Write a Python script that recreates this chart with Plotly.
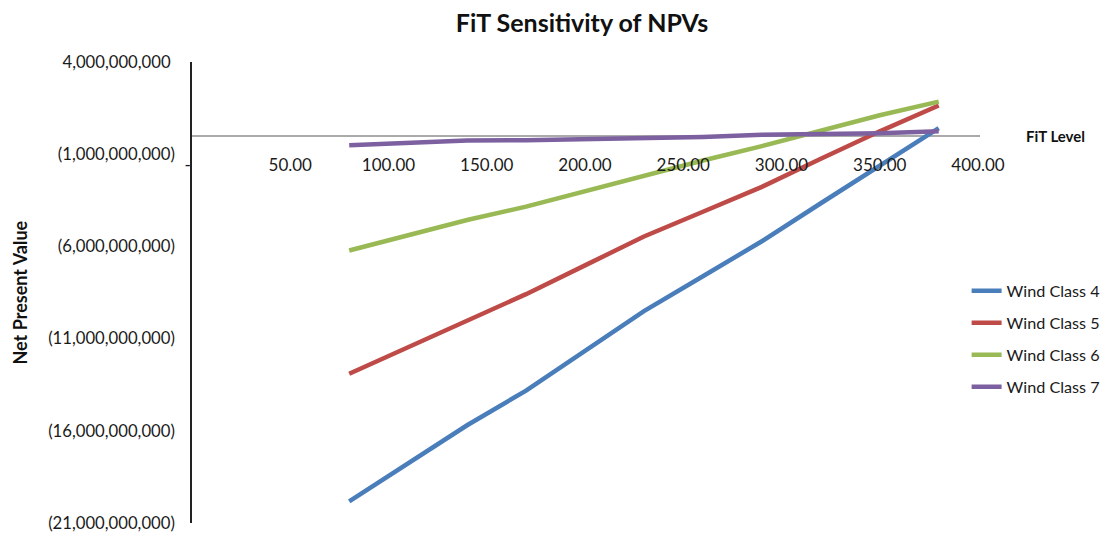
import plotly.graph_objects as go

fit_level = [80, 110, 140, 170, 200, 230, 260, 290, 320, 350, 380]

wind_class_4 = [-19.83e9, -17.77e9, -15.70e9, -13.82e9, -11.68e9, -9.51e9, -7.62e9, -5.72e9, -3.66e9, -1.60e9, 0.41e9]
wind_class_5 = [-12.91e9, -11.47e9, -9.97e9, -8.59e9, -7.03e9, -5.46e9, -4.12e9, -2.77e9, -1.25e9, 0.24e9, 1.64e9]
wind_class_6 = [-6.22e9, -5.40e9, -4.57e9, -3.84e9, -2.99e9, -2.13e9, -1.34e9, -0.56e9, 0.29e9, 1.11e9, 1.85e9]
wind_class_7 = [-0.51e9, -0.38e9, -0.26e9, -0.24e9, -0.20e9, -0.17e9, -0.07e9, 0.05e9, 0.08e9, 0.14e9, 0.24e9]

series_names = ["Wind Class 4", "Wind Class 5", "Wind Class 6", "Wind Class 7"]
series_values = [wind_class_4, wind_class_5, wind_class_6, wind_class_7]
colors = ["#4A7EBB", "#BE4B48", "#98B954", "#7D60A0"]

x_tickvals = [0, 50, 100, 150, 200, 250, 300, 350, 400]
x_ticktext = ["-\u00a0\u00a0", "50.00", "100.00", "150.00", "200.00", "250.00", "300.00", "350.00", "400.00"]
y_tickvals = [4e9, -1e9, -6e9, -11e9, -16e9, -21e9]
y_ticktext = ["4,000,000,000\u00a0", "(1,000,000,000)", "(6,000,000,000)", "(11,000,000,000)",
              "(16,000,000,000)", "(21,000,000,000)"]

FONT = "Lato"

# page body has an 8px margin, so the figure is made 16px smaller
W, H = 1102, 528
L, T = 184, 54
PW, PH = 788, 461

fig = go.Figure()
for name, vals, col in zip(series_names, series_values, colors):
    fig.add_trace(go.Scatter(
        x=fit_level, y=vals, mode="lines", name=name,
        line=dict(color=col, width=4.5), legendgroup=name,
    ))

fig.update_layout(
    width=W, height=H,
    plot_bgcolor="white", paper_bgcolor="white",
    margin=dict(l=L, r=W - L - PW, t=T, b=H - T - PH, autoexpand=False),
    font=dict(family=FONT, size=16, color="#1a1a1a"),
    title=dict(text="<b>FiT Sensitivity of NPVs</b>", x=574 / W, xref="container", xanchor="center",
               y=1 - 15 / H, yref="container", yanchor="middle",
               font=dict(family=FONT, size=25, color="#111111")),
    showlegend=True,
    legend=dict(x=0.983, xanchor="left", y=0.541, yanchor="top", traceorder="grouped",
                tracegroupgap=8, itemwidth=30, font=dict(family=FONT, size=16.2),
                bgcolor="rgba(0,0,0,0)"),
    xaxis=dict(range=[0, 401], tickvals=x_tickvals, ticktext=x_ticktext,
               tickfont=dict(family=FONT, size=17),
               showgrid=False, showline=False, zeroline=False, ticks="",
               anchor="free", position=0.84, side="bottom", ticklabelstandoff=17),
    yaxis=dict(range=[-21e9, 4e9], tickvals=y_tickvals, ticktext=y_ticktext,
               tickfont=dict(family=FONT, size=16.7),
               showgrid=False, showline=True, linecolor="#222222", linewidth=1.5,
               zeroline=True, zerolinecolor="#AAAAAA", zerolinewidth=1.5,
               ticks="", ticklabelstandoff=12),
    annotations=[
        dict(text="<b>FiT Level</b>", xref="paper", yref="y", x=(1055 - 8 - L) / PW, y=0,
             xanchor="center", yanchor="middle", showarrow=False,
             font=dict(family=FONT, size=15, color="#111111")),
        dict(text="<b>Net Present Value</b>", xref="paper", yref="paper", x=(19 - 8 - L) / PW, y=0.5,
             xanchor="center", yanchor="middle", textangle=-90, showarrow=False, borderpad=0,
             font=dict(family=FONT, size=18, color="#111111")),
    ],
)

fig.write_html("out.html")
